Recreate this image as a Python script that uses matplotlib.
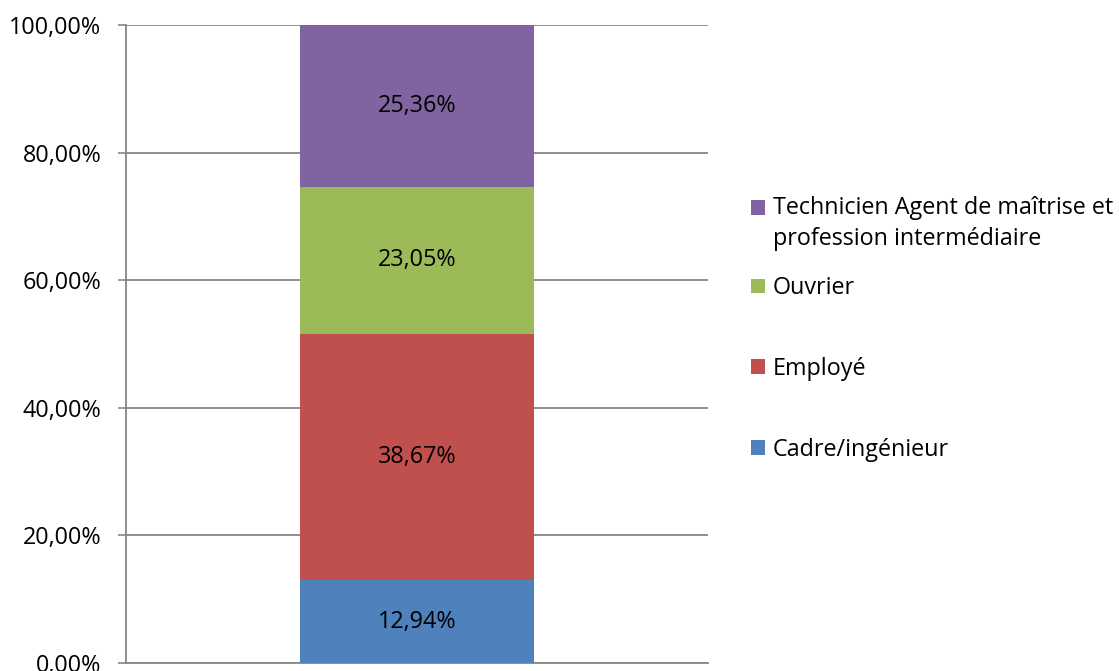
import numpy as np
import matplotlib.pyplot as plt
from matplotlib.ticker import FuncFormatter

plt.rcParams['font.family'] = ['Open Sans', 'DejaVu Sans']

# Données
categories = ["Cadre/ingénieur", "Employé", "Ouvrier",
              "Technicien Agent de maîtrise et\nprofession intermédiaire"]
valeurs = [12.94, 38.67, 23.05, 25.36]
couleurs = ["#4F81BD", "#C0504D", "#9BBB59", "#8064A2"]
yticks = [0, 20, 40, 60, 80, 100]

fs = 16.8

fig = plt.figure(figsize=(11.19, 6.71), dpi=100)
ax = fig.add_axes([0.1126, 0.0119, 0.5201, 0.9508])

bas = 0
for cat, v, c in zip(categories, valeurs, couleurs):
    ax.bar(0, v, bottom=bas, width=0.402, color=c, label=cat, zorder=3)
    ax.text(0, bas + v / 2, f"{v:.2f}%".replace(".", ","), ha="center",
            va="center", fontsize=fs, color="black", zorder=4)
    bas += v

ax.set_xlim(-0.5, 0.5)
ax.set_ylim(0, 100)
ax.set_yticks(yticks)
ax.yaxis.set_major_formatter(FuncFormatter(lambda y, p: f"{y:.2f}%".replace(".", ",")))
ax.set_xticks([])
ax.tick_params(axis="y", length=5.8, width=1.2, color="#868686", labelsize=fs, pad=12)
ax.grid(axis="y", color="#868686", linewidth=1.3, zorder=0)
for s in ["top", "right"]:
    ax.spines[s].set_visible(False)
for s in ["left", "bottom"]:
    ax.spines[s].set_color("#868686")
    ax.spines[s].set_linewidth(1.3)

# légende façon Excel : l'entrée sur deux lignes à part
h, l = ax.get_legend_handles_labels()
opts = dict(loc="center left", frameon=False, fontsize=fs, handlelength=0.6,
            handleheight=0.6, handletextpad=0.33, borderpad=0, borderaxespad=0)
leg1 = fig.legend(h[3:], l[3:], bbox_to_anchor=(0.6715, 1 - 223.5 / 671), **opts)
for t in leg1.get_texts():
    t.set_linespacing(1.42)
leg1.legend_handles[0].set_y(leg1.legend_handles[0].get_y() + 11.9)
leg2 = fig.legend(h[2::-1], l[2::-1], bbox_to_anchor=(0.6715, 1 - 369 / 671),
                  labelspacing=2.43, **opts)

fig.savefig("out.png", dpi=100)
